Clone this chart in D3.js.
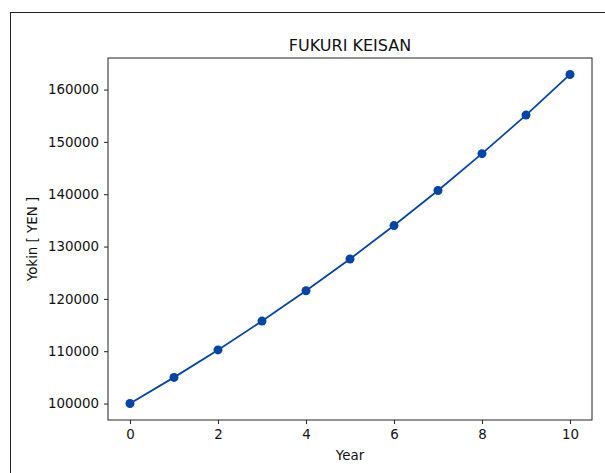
<!DOCTYPE html>
<html>
<head>
<meta charset="utf-8">
<script src="https://cdn.jsdelivr.net/npm/d3@7"></script>
<style>
body { margin: 0; background: #fff; }
text { font-family: "DejaVu Sans", sans-serif; }
</style>
</head>
<body>
<div class="chart"></div>
<script>
// values
const years = [0, 1, 2, 3, 4, 5, 6, 7, 8, 9, 10];
const yokin = [100000, 105000, 110250, 115760, 121550, 127630, 134010, 140710, 147750, 155130, 162890];
const xTicks = [0, 2, 4, 6, 8, 10];
const yTicks = [100000, 110000, 120000, 130000, 140000, 150000, 160000];

const width = 605;
const height = 473;
const plotLeft = 108, plotRight = 592, plotTop = 58, plotBottom = 420;
const color = "#0645a8";

const svg = d3.select('.chart')
	.append('svg')
	.attr('width', width)
	.attr('height', height);

// outer frame
svg.append('rect')
	.attr('x', 10.5)
	.attr('y', 12.5)
	.attr('width', 620)
	.attr('height', 480)
	.attr('fill', 'none')
	.attr('stroke', '#222')
	.attr('stroke-width', 1);

const x = d3.scaleLinear().domain([-0.5, 10.5]).range([plotLeft, plotRight]);
const y = d3.scaleLinear().domain([96855, 166034]).range([plotBottom, plotTop]);

svg.append('g')
	.attr('transform', `translate(0,${plotBottom})`)
	.call(d3.axisBottom(x).tickValues(xTicks).tickSize(4).tickPadding(5).tickFormat(d3.format('d')))
	.call(g => g.select('.domain').remove())
	.call(g => g.selectAll('line').attr('stroke', '#222'))
	.call(g => g.selectAll('text').attr('font-size', 13.4).attr('fill', '#111'));

svg.append('g')
	.attr('transform', `translate(${plotLeft},0)`)
	.call(d3.axisLeft(y).tickValues(yTicks).tickSize(4).tickPadding(5).tickFormat(d3.format('d')))
	.call(g => g.select('.domain').remove())
	.call(g => g.selectAll('line').attr('stroke', '#222'))
	.call(g => g.selectAll('text').attr('font-size', 13.4).attr('fill', '#111'));

// plot frame
svg.append('rect')
	.attr('x', plotLeft)
	.attr('y', plotTop)
	.attr('width', plotRight - plotLeft)
	.attr('height', plotBottom - plotTop)
	.attr('fill', 'none')
	.attr('stroke', '#222')
	.attr('stroke-width', 1);

const line = d3.line()
	.x(function(d, i) { return x(years[i]); })
	.y(function(d) { return y(d); });

svg.append('path')
	.datum(yokin)
	.attr('d', line)
	.attr('fill', 'none')
	.attr('stroke', color)
	.attr('stroke-width', 1.8);

svg.selectAll('.dot')
	.data(yokin)
	.enter()
	.append('circle')
	.attr('cx', function(d, i) { return x(years[i]); })
	.attr('cy', function(d) { return y(d); })
	.attr('r', 4.5)
	.attr('fill', color);

svg.append('text')
	.text('FUKURI KEISAN')
	.attr('x', (plotLeft + plotRight) / 2)
	.attr('y', 51)
	.attr('text-anchor', 'middle')
	.attr('font-size', 16)
	.attr('fill', '#111');

svg.append('text')
	.text('Year')
	.attr('x', (plotLeft + plotRight) / 2)
	.attr('y', 460)
	.attr('text-anchor', 'middle')
	.attr('font-size', 13.4)
	.attr('fill', '#111');

svg.append('text')
	.text('Yokin [ YEN ]')
	.attr('transform', `translate(37,${(plotTop + plotBottom) / 2}) rotate(-90)`)
	.attr('text-anchor', 'middle')
	.attr('font-size', 13.4)
	.attr('fill', '#111');
</script>
</body>
</html>
